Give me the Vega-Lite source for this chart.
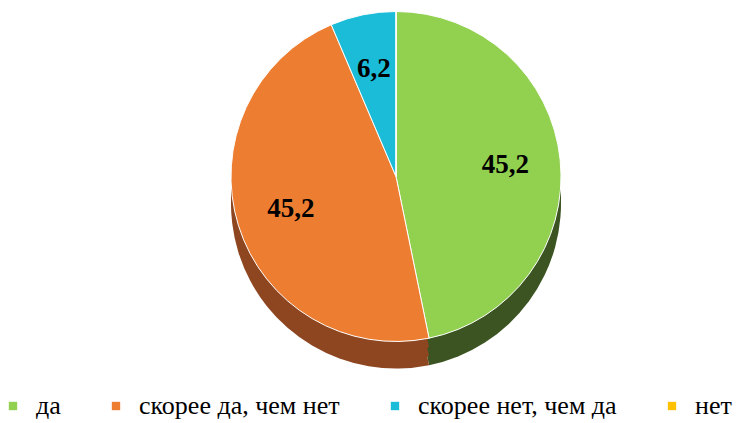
{
  "$schema": "https://vega.github.io/schema/vega-lite/v6.json",
  "width": 754,
  "height": 423,
  "autosize": {"type": "fit", "contains": "padding"},
  "padding": {"top": 4, "bottom": 4, "left": 0, "right": 0},
  "background": "white",
  "config": {"view": {"stroke": null}, "legend": {"labelFont": "Liberation Serif"}},
  "data": {
    "values": [
      {"cat": "да", "value": 45.2, "order": 1, "label": "45,2"},
      {"cat": "скорее да, чем нет", "value": 45.2, "order": 2, "label": "45,2"},
      {"cat": "скорее нет, чем да", "value": 6.2, "order": 3, "label": "6,2"},
      {"cat": "нет", "value": 0, "order": 4, "label": ""}
    ]
  },
  "encoding": {
    "theta": {"field": "value", "type": "quantitative", "stack": true},
    "order": {"field": "order", "type": "quantitative"}
  },
  "resolve": {"scale": {"color": "independent"}},
  "layer": [
    {
      "mark": {"type": "arc", "radius": 165, "yOffset": 14, "xOffset": 19},
      "encoding": {
        "color": {"field": "cat", "type": "nominal", "legend": null,
          "scale": {"domain": ["да", "скорее да, чем нет", "скорее нет, чем да", "нет"], "range": ["#3C5422", "#8E4620", "#138A9C", "#B38600"]}}
      }
    },
    {
      "mark": {"type": "arc", "radius": 165, "yOffset": 5, "xOffset": 19},
      "encoding": {
        "color": {"field": "cat", "type": "nominal", "legend": null,
          "scale": {"domain": ["да", "скорее да, чем нет", "скорее нет, чем да", "нет"], "range": ["#3C5422", "#8E4620", "#138A9C", "#B38600"]}}
      }
    },
    {
      "mark": {"type": "arc", "radius": 165, "yOffset": -4, "xOffset": 19},
      "encoding": {
        "color": {"field": "cat", "type": "nominal", "legend": null,
          "scale": {"domain": ["да", "скорее да, чем нет", "скорее нет, чем да", "нет"], "range": ["#3C5422", "#8E4620", "#138A9C", "#B38600"]}}
      }
    },
    {
      "mark": {"type": "arc", "radius": 165, "yOffset": -13, "xOffset": 19, "stroke": "#ffffff", "strokeWidth": 1},
      "encoding": {
        "color": {"field": "cat", "type": "nominal",
          "scale": {"domain": ["да", "скорее да, чем нет", "скорее нет, чем да", "нет"], "range": ["#92D050", "#ED7D31", "#1BBCD8", "#FFC000"]},
          "legend": {
            "title": null,
            "orient": "bottom",
            "direction": "horizontal",
            "symbolType": "square",
            "symbolSize": 70,
            "symbolStrokeWidth": 0,
            "labelFont": "Liberation Serif",
            "labelFontSize": 26,
            "labelColor": "#000000",
            "labelLimit": 400,
            "columnPadding": 42,
            "labelOffset": 10
          }
        }
      }
    },
    {
      "mark": {"type": "text", "radius": 110, "yOffset": -13, "xOffset": 19, "font": "Liberation Serif", "fontWeight": "bold", "fontSize": 27, "color": "#000000"},
      "encoding": {
        "text": {"field": "label"}
      }
    }
  ]
}
